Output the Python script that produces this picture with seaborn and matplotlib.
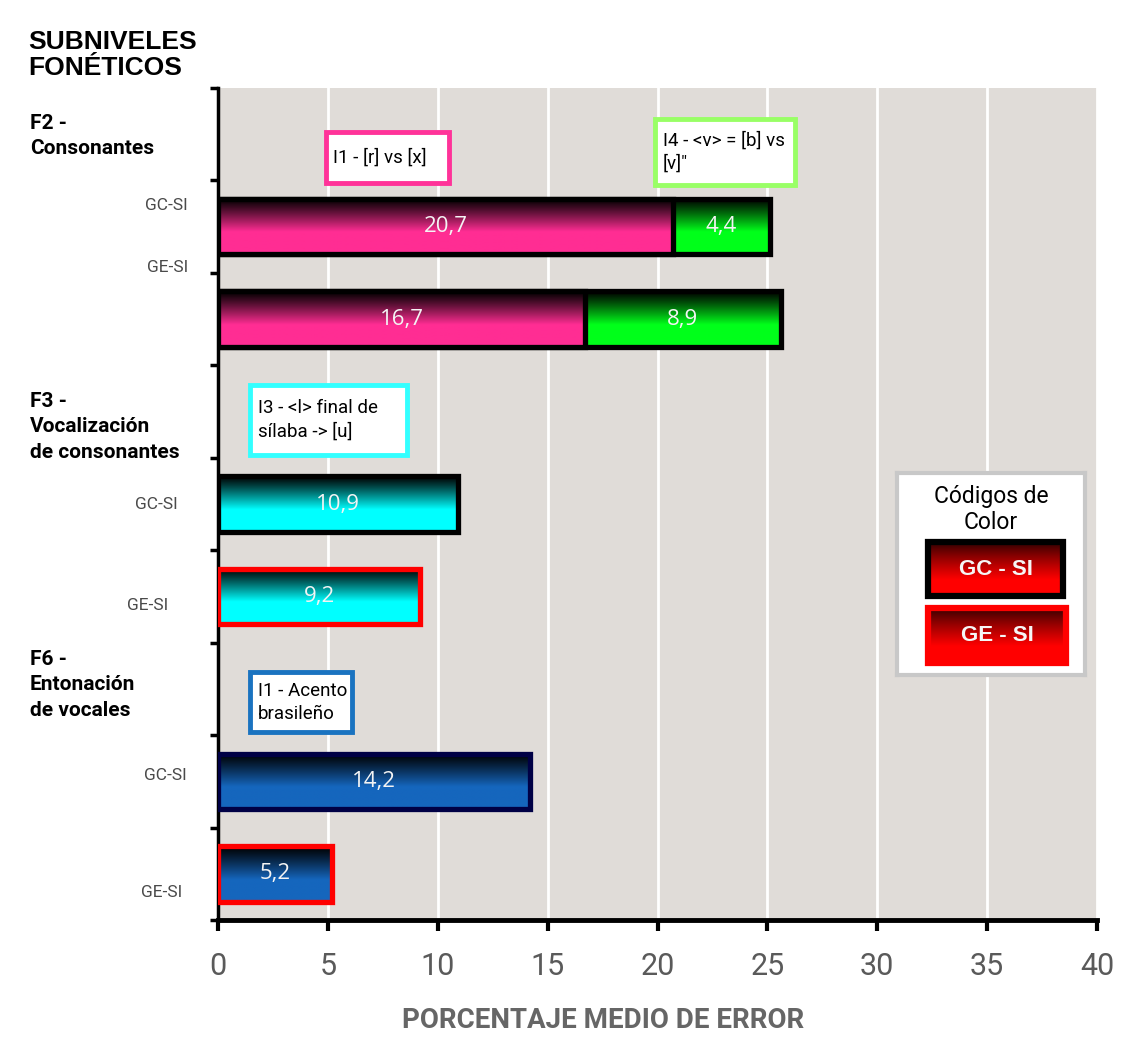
import numpy as np
import pandas as pd
import matplotlib
matplotlib.use("Agg")
import matplotlib.pyplot as plt
import matplotlib.transforms as mtransforms
from matplotlib.colors import to_rgb
from matplotlib.patches import Rectangle
import seaborn as sns

# --- datos ---
slots = ["F2", "F2 GC-SI", "F2 GE-SI", "F3", "F3 GC-SI", "F3 GE-SI", "F6", "F6 GC-SI", "F6 GE-SI"]
bar_slots = ["F2 GC-SI", "F2 GE-SI", "F3 GC-SI", "F3 GE-SI", "F6 GC-SI", "F6 GE-SI"]
valores = [20.7, 16.7, 10.9, 9.2, 14.2, 5.2]        # I1 [r] vs [x] / I3 / I1 Acento
i4_slots = ["F2 GC-SI", "F2 GE-SI"]
i4_valores = [4.4, 8.9]                               # I4 <v> = [b] vs [v]
grupo_si = ["GC-SI", "GE-SI", "GC-SI", "GE-SI", "GC-SI", "GE-SI"]
grupos = ["F2 -\nConsonantes", "F3 -\nVocalización\nde consonantes", "F6 -\nEntonación\nde vocales"]
items = ["I1 - [r] vs [x]", "I4 - <v> = [b] vs\n[v]\"", "I3 - <l> final de\nsílaba -> [u]", "I1 - Acento\nbrasileño"]
xticks = [0, 5, 10, 15, 20, 25, 30, 35, 40]

# --- estilo ---
ROSA, VERDE, CIAN, AZUL = "#ff2d93", "#00ff1a", "#00ffff", "#1566bd"
color_barra = [ROSA, ROSA, CIAN, CIAN, AZUL, AZUL]
borde_barra = ["black", "black", "black", "#ff0000", "#000045", "#ff0000"]
NARROW = ["Roboto", "DejaVu Sans"]
plt.rcParams["font.family"] = NARROW

df = pd.DataFrame({"slot": bar_slots, "valor": valores})
total = [v + e for v, e in zip(valores[:2], i4_valores)]
df_tot = pd.DataFrame({"slot": i4_slots, "total": total})

fig = plt.figure(figsize=(11.32, 10.39), dpi=100)
ax = fig.add_axes([0.1926, 0.1145, 0.7765, 0.8008])
ax.set_facecolor("#e0dcd8")


def gradiente(bar, color, z, corte=0.6):
    x0, y0 = bar.get_x(), bar.get_y()
    w, h = bar.get_width(), bar.get_height()
    t = np.linspace(0, 1, 80)[:, None]
    mix = np.clip(t / corte, 0, 1) ** 1.1
    img = mix[..., None] * np.array(to_rgb(color))
    im = ax.imshow(img, extent=(x0, x0 + w, y0 + h, y0), origin="upper",
                   aspect="auto", zorder=z, interpolation="bilinear")
    im.set_clip_path(bar)
    bar.set_facecolor("none")
    bar.set_zorder(z + 0.1)


# barras totales (verde, I4) debajo
sns.barplot(data=df_tot, x="total", y="slot", order=slots, color=VERDE,
            width=0.6, ax=ax, edgecolor="black", linewidth=3.5)
n_tot = len(ax.patches)
sns.barplot(data=df, x="valor", y="slot", order=slots, color=ROSA,
            width=0.6, ax=ax, edgecolor="black", linewidth=3.5)

for k, bar in enumerate(list(ax.patches)):
    if not np.isfinite(bar.get_width()) or bar.get_width() == 0:
        continue
    s = int(round(bar.get_y() + bar.get_height() / 2))
    j = bar_slots.index(slots[s])
    if k < n_tot:
        gradiente(bar, VERDE, 2)
        bar.set_edgecolor("black")
    else:
        gradiente(bar, color_barra[j], 3)
        bar.set_edgecolor(borde_barra[j])
    bar.set_linewidth(3.8)

# etiquetas de valores
for s, v in zip(bar_slots, valores):
    y = slots.index(s)
    ax.text(v / 2, y, f"{v:.1f}".replace(".", ","), ha="center", va="center",
            color="#f4f4f4", fontsize=16, family=["Open Sans", "DejaVu Sans"], zorder=6)
for s, v, e in zip(i4_slots, valores[:2], i4_valores):
    y = slots.index(s)
    ax.text(v + e / 2, y, f"{e:.1f}".replace(".", ","), ha="center", va="center",
            color="#f4f4f4", fontsize=16, family=["Open Sans", "DejaVu Sans"], zorder=6)

# ejes
ax.set_xlim(0, 40)
ax.set_ylim(8.5, -0.5)
ax.set_xticks(xticks)
ax.set_xticklabels([str(t) for t in xticks], fontsize=22, color="#5a5a5a")
ax.set_yticks(np.arange(-0.5, 9, 1))
ax.set_yticklabels([])
ax.set_xlabel("")
ax.set_ylabel("")
ax.grid(axis="x", color="white", linewidth=2)
ax.set_axisbelow(True)
for sp in ["top", "right"]:
    ax.spines[sp].set_visible(False)
ax.spines["left"].set_linewidth(2.5)
ax.spines["bottom"].set_linewidth(3.5)
ax.tick_params(axis="x", length=8, width=3, pad=15)
ax.tick_params(axis="y", length=6, width=2.5)

# etiquetas GC-SI / GE-SI
tr = mtransforms.blended_transform_factory(ax.transAxes, ax.transData)
off_y = [-0.23, -0.56, 0.0, 0.1, -0.06, 0.2]
pos_x = [-0.059, -0.057, -0.070, -0.080, -0.060, -0.064]
for s, lab, dy, px in zip(bar_slots, grupo_si, off_y, pos_x):
    ax.text(px, slots.index(s) + dy, lab, transform=tr, ha="center", va="center",
            fontsize=12.5, color="#4a4a4a", clip_on=False)

# cajas de items
cajas = [(4.9, -0.02, 5.6, 0.55, "#ff3399"), (19.9, -0.16, 6.35, 0.71, "#99ff66"),
         (1.46, 2.71, 7.14, 0.76, "#33ffff"), (1.46, 5.82, 4.64, 0.65, "#1a73c0")]
for (x0, y0, w, h, c), txt in zip(cajas, items):
    ax.add_patch(Rectangle((x0, y0), w, h, facecolor="white", edgecolor=c,
                           linewidth=3.5, zorder=5))
    ax.text(x0 + 0.35, y0 + h / 2, txt, ha="left", va="center", fontsize=13.5,
            color="black", zorder=6, linespacing=1.35)

# textos de la izquierda
fig.text(28 / 1132, 1 - 30 / 1039, "SUBNIVELES\nFONÉTICOS", ha="left", va="top",
         fontsize=19, fontweight="bold", family=["Liberation Sans", "DejaVu Sans"],
         linespacing=1.12)
for txt, ytop in zip(grupos, [114, 392, 650]):
    fig.text(30 / 1132, 1 - ytop / 1039, txt, ha="left", va="top", fontsize=15,
             fontweight="bold", linespacing=1.42)

fig.text(603 / 1132, 1 - 1020 / 1039, "PORCENTAJE MEDIO DE ERROR", ha="center",
         va="center", fontsize=20, fontweight="bold", color="#666666")

# leyenda de colores
lg = fig.add_axes([897 / 1132, 1 - 675 / 1039, 188 / 1132, 202 / 1039])
lg.set_xlim(0, 1)
lg.set_ylim(0, 1)
lg.set_xticks([])
lg.set_yticks([])
for sp in lg.spines.values():
    sp.set_color("#c8c8c8")
    sp.set_linewidth(3)
lg.text(0.5, 0.82, "Códigos de\nColor", ha="center", va="center", fontsize=16.5,
        linespacing=1.15)
botones = [(0.165, 0.391, 0.718, 0.267, "black", "GC - SI"),
           (0.165, 0.059, 0.734, 0.273, "#ff0000", "GE - SI")]
for x0, y0, w, h, ec, txt in botones:
    r = Rectangle((x0, y0), w, h, facecolor="none", edgecolor=ec, linewidth=4.5, zorder=3)
    lg.add_patch(r)
    t = np.linspace(0, 1, 80)[:, None]
    mix = np.clip(t / 0.7, 0, 1) ** 0.8
    img = (0.15 + 0.85 * mix)[..., None] * np.array(to_rgb("#ff0000"))
    im = lg.imshow(img, extent=(x0, x0 + w, y0, y0 + h), origin="upper",
                   aspect="auto", zorder=2, interpolation="bilinear")
    im.set_clip_path(r)
    lg.text(x0 + w / 2, y0 + h / 2, txt, ha="center", va="center", color="#f6f6f6",
            fontsize=16, fontweight="bold", family=["Liberation Sans", "DejaVu Sans"], zorder=4)
lg.set_xlim(0, 1)
lg.set_ylim(0, 1)

fig.savefig("out.png", dpi=100)
